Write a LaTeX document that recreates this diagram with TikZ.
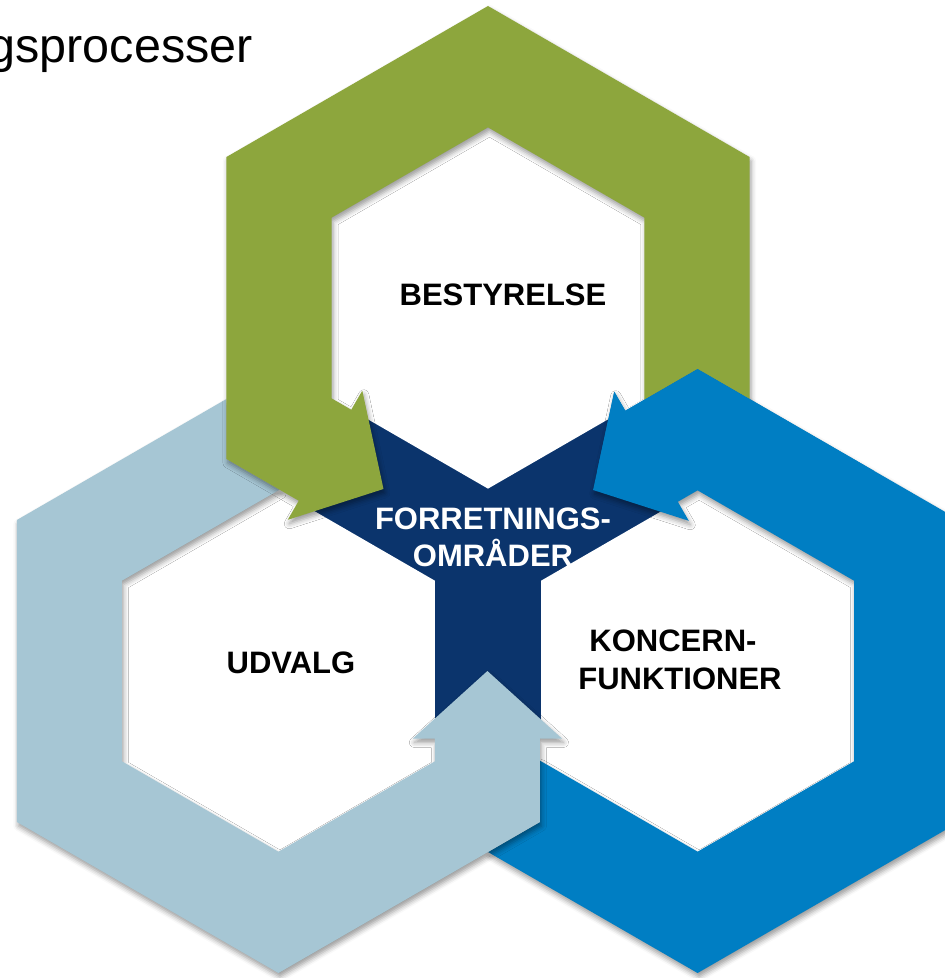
\documentclass[tikz,border=0pt]{standalone}
\usepackage{fontspec}
\setmainfont{Liberation Sans}
\usetikzlibrary{shadows.blur}

\definecolor{leafgreen}{RGB}{141,166,61}
\definecolor{paleblue}{RGB}{166,198,212}
\definecolor{brightblue}{RGB}{0,126,195}
\definecolor{deepnavy}{RGB}{11,52,108}

% One hexagonal ring arrow (the top one); the other two are this shape
% turned by 120 and 240 degrees about the common centre.
% Tail: notch shaped by the neighbouring hexagon; head: points into the core.
\def\ringshape{(261.55,151) -- (261.55,393) -- (0,544) -- (-261.55,393)
  -- (-261.55,91) -- (-189.24,49.25) -- (-200.24,30.2) -- (-104.5,61.01)
  -- (-125.69,159.32) -- (-136.69,140.27) -- (-156.45,151.67)
  -- (-156.45,332.33) -- (0,422.65) -- (156.45,332.33) -- (156.45,150.33)
  -- (209.58,181) -- cycle}
% hollow middle of the top hexagon
\def\innerhex{(0,422.65) -- (156.45,332.33) -- (156.45,151.67) -- (0,61.35)
  -- (-156.45,151.67) -- (-156.45,332.33) -- cycle}

\begin{document}
\begin{tikzpicture}[x=1pt,y=1pt,
  ringfill/.style={fill=#1, blur shadow={shadow xshift=1.5pt,
      shadow yshift=-4pt, shadow blur radius=5pt, shadow opacity=40}},
  headline/.style={font=\bfseries\fontsize{31}{37}\selectfont,
      inner sep=0pt, anchor=base}]
\useasboundingbox (-488,-428) rectangle (457,550);

% dark core behind the three rings
\fill[deepnavy] (90:364) -- (210:364) -- (330:364) -- cycle;
\foreach \a in {0,120,240} \fill[white, rotate=\a] \innerhex;

% rings: right, left, top
\begin{scope}[rotate=240]
  \fill[ringfill=brightblue] \ringshape;
\end{scope}
\begin{scope}[rotate=120]
  \fill[ringfill=paleblue] \ringshape;
\end{scope}
\fill[ringfill=leafgreen] \ringshape;

% the right ring lies over the tail of the top ring
\begin{scope}
  \clip (72,80) rectangle (457,250);
  \begin{scope}[rotate=240]
    \fill[brightblue] \ringshape;
  \end{scope}
\end{scope}

% texts
\node[font=\fontsize{48.5}{56}\selectfont, inner sep=0pt, anchor=base east]
  (title) at (-235,487) {gsprocesser};
\node[headline] (board) at (15,244) {BESTYRELSE};
\node[headline, text=white] (core1) at (5,21) {FORRETNINGS-};
\node[headline, text=white] (core2) at (5,-16) {OMRÅDER};
\node[headline] (committee) at (-197,-123) {UDVALG};
\node[headline] (group1) at (185,-101) {KONCERN-};
\node[headline] (group2) at (192,-139) {FUNKTIONER};
\end{tikzpicture}
\end{document}
